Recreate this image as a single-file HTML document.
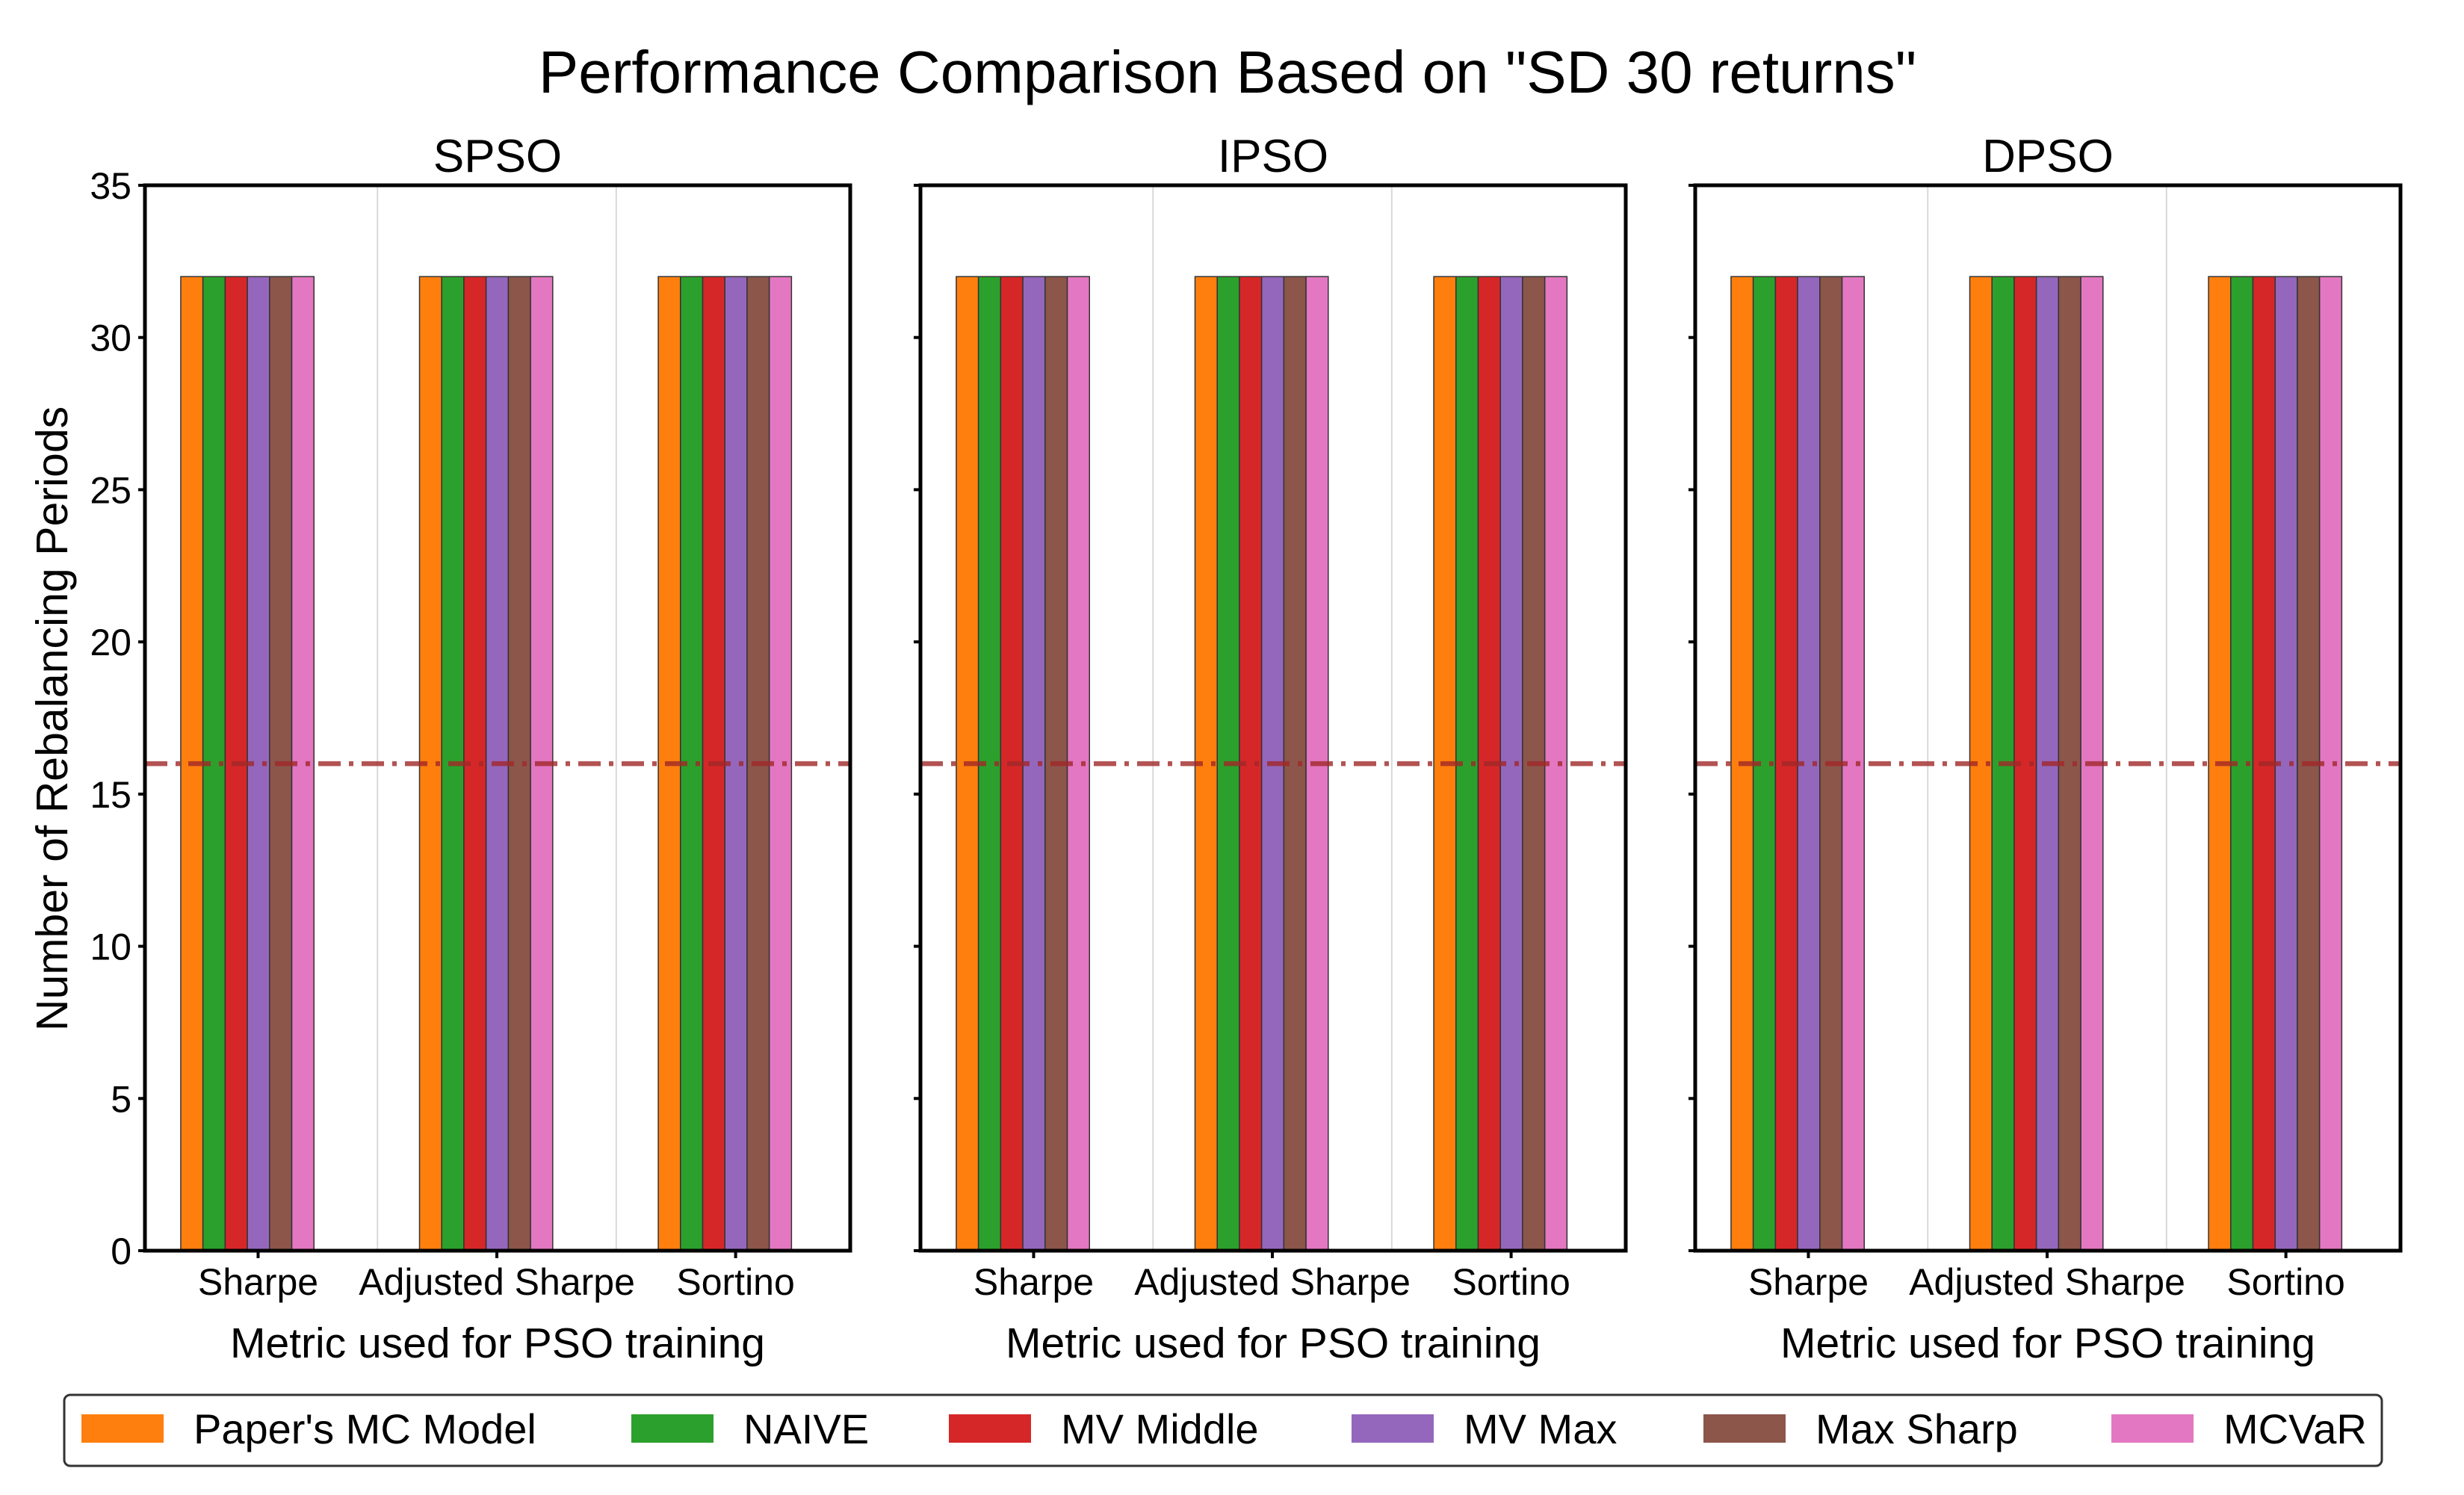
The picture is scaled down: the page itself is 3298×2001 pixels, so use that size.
<!DOCTYPE html>
<html><head><meta charset="utf-8"><style>
html,body{margin:0;padding:0;background:#fff;}
svg{display:block;font-family:"Liberation Sans","DejaVu Sans",sans-serif;}
</style></head><body>
<svg id="chart" width="3298" height="2001" viewBox="0 0 3298 2001" xmlns="http://www.w3.org/2000/svg">
<text x="1643" y="124" text-anchor="middle" font-size="80" fill="#000">Performance Comparison Based on "SD 30 returns"</text>
<text transform="translate(90,962) rotate(-90)" text-anchor="middle" font-size="59" fill="#000">Number of Rebalancing Periods</text>
<g id="panels"></g>
<g id="legend"></g>
</svg>
<script>
const panelNames = ["SPSO","IPSO","DPSO"];
const categories = ["Sharpe","Adjusted Sharpe","Sortino"];
const seriesNames = ["Paper's MC Model","NAIVE","MV Middle","MV Max","Max Sharp","MCVaR"];
const seriesColors = ["#ff7f0e","#2ca02c","#d62728","#9467bd","#8c564b","#e377c2"];
const valuesSPSO = [[32,32,32],[32,32,32],[32,32,32],[32,32,32],[32,32,32],[32,32,32]];
const valuesIPSO = [[32,32,32],[32,32,32],[32,32,32],[32,32,32],[32,32,32],[32,32,32]];
const valuesDPSO = [[32,32,32],[32,32,32],[32,32,32],[32,32,32],[32,32,32],[32,32,32]];
const panelValues = [valuesSPSO, valuesIPSO, valuesDPSO];
const yTicks = [0,5,10,15,20,25,30,35];
const thresholdValue = 16;

const NS = "http://www.w3.org/2000/svg";
function mk(tag, attrs, parent){const e=document.createElementNS(NS,tag);for(const k in attrs)e.setAttribute(k,attrs[k]);parent.appendChild(e);return e;}
const panelLefts=[194,1232,2269], panelW=944, plotTop=248, plotBottom=1674;
const xMin=-0.474, xMax=2.48, yMax=35, barW=0.093, barStart=-0.324;
const panelsG=document.getElementById('panels');
panelNames.forEach((pn,pi)=>{
  const L=panelLefts[pi];
  const xs=v=>L+(v-xMin)/(xMax-xMin)*panelW;
  const ys=v=>plotBottom-v/yMax*(plotBottom-plotTop);
  const g=mk('g',{},panelsG);
  
  
  const t=mk('text',{x:L+panelW/2,y:230,'text-anchor':'middle','font-size':62,fill:'#000'},g);
  t.textContent=pn;
  
  
  [0.5,1.5].forEach(gv=>{
    const gl=mk('line',{x1:xs(gv),x2:xs(gv),y1:plotTop,y2:plotBottom,stroke:'#d9d9d9','stroke-width':2},g);
    
    
  });
  const vals=panelValues[pi];
  seriesNames.forEach((sn,si)=>{
    categories.forEach((c,ci)=>{
      const x0=xs(ci+barStart+si*barW), x1=xs(ci+barStart+(si+1)*barW);
      const r=mk('rect',{x:x0,y:ys(vals[si][ci]),width:x1-x0,height:ys(0)-ys(vals[si][ci]),fill:seriesColors[si],stroke:'#333','stroke-width':1.5},g);
      
      
    });
  });
  const th=mk('line',{x1:L,x2:L+panelW,y1:ys(thresholdValue),y2:ys(thresholdValue),stroke:'#a02828','stroke-opacity':0.8,'stroke-width':6.5,'stroke-dasharray':'30,11,6,11'},g);
  
  
  const fr=mk('rect',{x:L,y:plotTop,width:panelW,height:plotBottom-plotTop,fill:'none',stroke:'#000','stroke-width':5},g);
  
  
  yTicks.forEach(v=>{
    const tk=mk('line',{x1:L-9,x2:L,y1:ys(v),y2:ys(v),stroke:'#000','stroke-width':4},g);
    
    
    if(pi===0){
      const tl=mk('text',{x:L-18,y:ys(v)+18,'text-anchor':'end','font-size':50,fill:'#000'},g);
      tl.textContent=v;
      
      
    }
  });
  categories.forEach((c,ci)=>{
    const tk=mk('line',{x1:xs(ci),x2:xs(ci),y1:plotBottom,y2:plotBottom+10,stroke:'#000','stroke-width':4},g);
    
    
    const tl=mk('text',{x:xs(ci),y:1733,'text-anchor':'middle','font-size':50,fill:'#000'},g);
    tl.textContent=c;
    
    
  });
  const xl=mk('text',{x:L+panelW/2,y:1817,'text-anchor':'middle','font-size':57,fill:'#000'},g);
  xl.textContent='Metric used for PSO training';
  
  
});
const lg=document.getElementById('legend');
const box=mk('rect',{x:86,y:1867,width:3102,height:95,rx:8,fill:'#fff',stroke:'#333','stroke-width':3},lg);


const swX=[109,845,1270,1809,2280,2826];
seriesNames.forEach((sn,si)=>{
  const e=mk('g',{},lg);
  
  
  mk('rect',{x:swX[si],y:1893,width:110,height:38,fill:seriesColors[si]},e);
  const tx=mk('text',{x:swX[si]+150,y:1932,'font-size':56,fill:'#000'},e);
  tx.textContent=sn;
});
</script>
</body></html>
